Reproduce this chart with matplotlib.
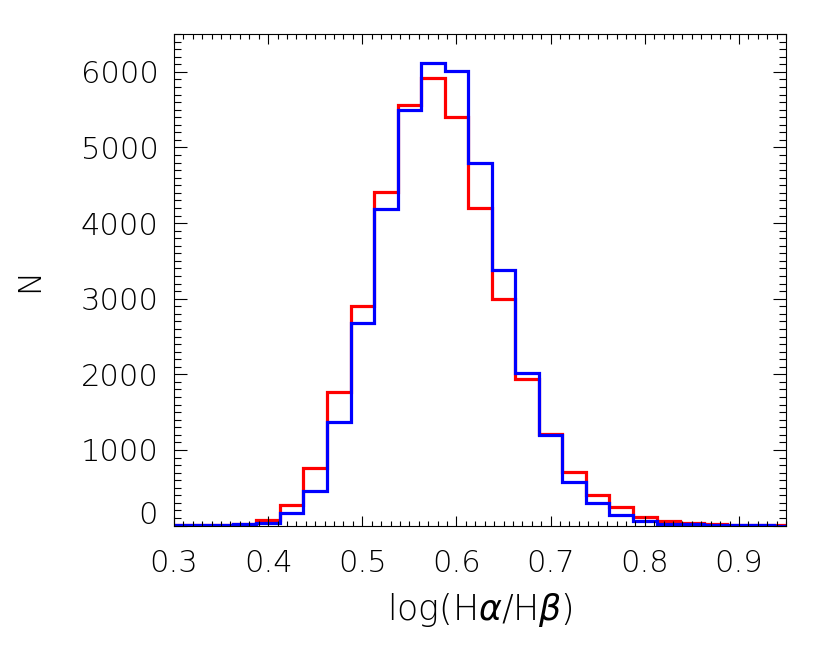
import matplotlib
matplotlib.use("Agg")
import matplotlib.pyplot as plt
import matplotlib.ticker as ticker
import numpy as np

# bin edges of the histogram (width 0.025)
edges = np.round(np.arange(0.2875, 0.9626, 0.025), 4)

# counts per bin
red_counts = [2, 3, 8, 25, 70, 272, 758, 1771, 2909, 4408, 5559, 5917, 5396,
              4205, 2993, 1935, 1212, 715, 403, 244, 114, 60, 40, 22, 10, 5, 3]
blue_counts = [2, 3, 6, 17, 35, 171, 458, 1366, 2684, 4188, 5493, 6115, 6017,
               4800, 3381, 2014, 1198, 581, 295, 140, 60, 25, 17, 5, 3, 2, 1]

x_ticks = [0.3, 0.4, 0.5, 0.6, 0.7, 0.8, 0.9]
y_ticks = [0, 1000, 2000, 3000, 4000, 5000, 6000]

# thin, wide lettering like the IDL vector font
plt.rcParams['font.family'] = ['DejaVu Sans']
plt.rcParams['font.weight'] = 'light'
plt.rcParams['axes.labelweight'] = 'light'
plt.rcParams['mathtext.fontset'] = 'custom'
plt.rcParams['mathtext.rm'] = 'DejaVu Sans:light'
plt.rcParams['mathtext.it'] = 'DejaVu Sans:italic'

fig = plt.figure(figsize=(8.3, 6.64), dpi=100)
ax = fig.add_axes([174/830, 1-525.6/664, (786-174)/830, (525.6-34)/664])

ax.stairs(red_counts, edges, color='#ff0000', lw=2.3)
ax.stairs(blue_counts, edges, color='#0000ff', lw=2.3)

ax.set_xlim(0.3, 0.95)
ax.set_ylim(0, 6500)

ax.set_xticks(x_ticks)
ax.set_xticklabels([f"{v:.1f}" for v in x_ticks])
ax.xaxis.set_minor_locator(ticker.MultipleLocator(0.01))
ax.set_yticks(y_ticks)
ax.set_yticklabels([''] + [str(v) for v in y_ticks[1:]])
ax.yaxis.set_minor_locator(ticker.MultipleLocator(100))

ax.tick_params(which='both', direction='in', top=True, right=True, width=0.8)
ax.tick_params(axis='x', which='major', length=7.2, pad=17, labelsize=22)
ax.tick_params(axis='x', which='minor', length=3.6)
ax.tick_params(axis='y', which='major', length=9.4, pad=11, labelsize=22)
ax.tick_params(axis='y', which='minor', length=4.7)
for s in ax.spines.values():
    s.set_linewidth(0.8)

# the zero label sits a little above its tick
ax.annotate('0', xy=(0, 0), xycoords=('axes fraction', 'data'),
            xytext=(-16, 10), textcoords='offset pixels',
            ha='right', va='center', fontsize=22)

ax.set_xlabel(r'log(H$\alpha$/H$\beta$)', fontsize=25, fontweight='light', labelpad=9)
ax.set_ylabel('N', fontsize=23, fontweight='light', labelpad=26)

fig.savefig('out.png', dpi=100)
